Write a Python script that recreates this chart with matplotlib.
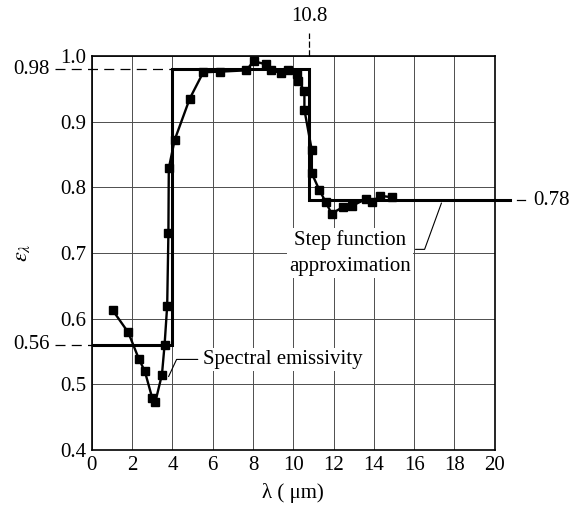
# Spectral emissivity vs wavelength with its three-band step approximation.
import matplotlib
matplotlib.use("Agg")
import matplotlib.pyplot as plt

LAM = [1.03, 1.81, 2.33, 2.63, 2.99, 3.15, 3.48, 3.61, 3.74, 3.80, 3.82, 4.11,
       4.86, 5.53, 6.37, 7.67, 8.03, 8.65, 8.89, 9.39, 9.75, 10.17, 10.25,
       10.55, 10.55, 10.92, 10.92, 11.29, 11.6, 11.9, 12.47, 12.93, 13.6,
       13.93, 14.3, 14.88]
EPS = [0.613, 0.579, 0.539, 0.520, 0.480, 0.473, 0.515, 0.560, 0.620, 0.730,
       0.829, 0.872, 0.935, 0.975, 0.976, 0.978, 0.992, 0.987, 0.978, 0.974,
       0.978, 0.972, 0.962, 0.947, 0.918, 0.856, 0.821, 0.796, 0.778, 0.760,
       0.770, 0.772, 0.782, 0.778, 0.787, 0.785]

# step-function approximation
STEP_EDGES = [0, 4, 10.8, 20]
STEP_VALUES = [0.56, 0.98, 0.78]

SERIF = ["Liberation Serif", "DejaVu Serif"]
plt.rcParams["font.family"] = SERIF
plt.rcParams["mathtext.fontset"] = "stix"
FS = 15

fig = plt.figure(figsize=(5.74, 5.08), dpi=100)
ax = fig.add_axes([0.160, 0.114, 0.702, 0.776])

ax.set_xlim(0, 20)
ax.set_ylim(0.4, 1.0)
ax.set_xticks(range(0, 21, 2))
ax.set_yticks([0.4, 0.5, 0.6, 0.7, 0.8, 0.9, 1.0])
ax.set_yticklabels(["0.4", "0.5", "0.6", "0.7", "0.8", "0.9", "1.0"])
ax.tick_params(length=0, labelsize=FS, pad=4)
ax.grid(True, color="0.3", lw=0.7)
ax.set_axisbelow(True)
for s in ax.spines.values():
    s.set_linewidth(1.2)

# step function (extends a bit past the right edge toward its label)
ax.stairs(STEP_VALUES, STEP_EDGES, color="black", lw=2.2, baseline=None, zorder=3)
ax.plot([STEP_EDGES[-1], 20.75], [STEP_VALUES[-1]] * 2, color="black", lw=2.2,
        clip_on=False, zorder=3)

# measured data
ax.plot(LAM, EPS, color="black", lw=1.7, marker="s", ms=6, zorder=4)

# reference labels
ax.plot([-1.85, STEP_EDGES[1]], [STEP_VALUES[1]] * 2, color="black", lw=0.9,
        ls=(0, (8, 5)), clip_on=False, zorder=2)
ax.text(-2.1, STEP_VALUES[1], "0.98", ha="right", va="center", fontsize=FS)
ax.plot([-1.85, 0], [STEP_VALUES[0]] * 2, color="black", lw=0.9,
        ls=(0, (8, 5)), clip_on=False)
ax.text(-2.1, STEP_VALUES[0], "0.56", ha="right", va="center", fontsize=FS)
ax.plot([STEP_EDGES[2]] * 2, [1.0, 1.035], color="black", lw=0.9,
        ls=(0, (5, 2)), clip_on=False)
ax.text(STEP_EDGES[2], 1.045, "10.8", ha="center", va="bottom", fontsize=FS)
ax.plot([21.1, 21.5], [STEP_VALUES[2]] * 2, color="black", lw=0.9, clip_on=False)
ax.text(21.9, STEP_VALUES[2], "0.78", ha="left", va="center", fontsize=FS)

# callouts (white boxes hide the grid behind the words)
box = dict(facecolor="white", edgecolor="none", pad=1.5)
ax.annotate("Spectral emissivity", xy=(3.75, 0.508), xytext=(5.5, 0.538),
            fontsize=15, ha="left", va="center", bbox=box, zorder=5,
            arrowprops=dict(arrowstyle="-", color="black", lw=0.8,
                            connectionstyle="angle,angleA=0,angleB=65,rad=0"))
ax.annotate("Step function\napproximation", xy=(17.4, 0.78), xytext=(12.8, 0.70),
            fontsize=15, ha="center", va="center", linespacing=1.45,
            bbox=box, zorder=5,
            arrowprops=dict(arrowstyle="-", color="black", lw=0.8,
                            relpos=(1.0, 0.58),
                            connectionstyle="angle,angleA=0,angleB=70,rad=0"))

ax.set_xlabel("λ ( μm)", fontsize=15, labelpad=6)
ax.set_ylabel(r"$\varepsilon_\lambda$", fontsize=16, rotation=90, labelpad=20)

fig.savefig("out.png", dpi=100)
